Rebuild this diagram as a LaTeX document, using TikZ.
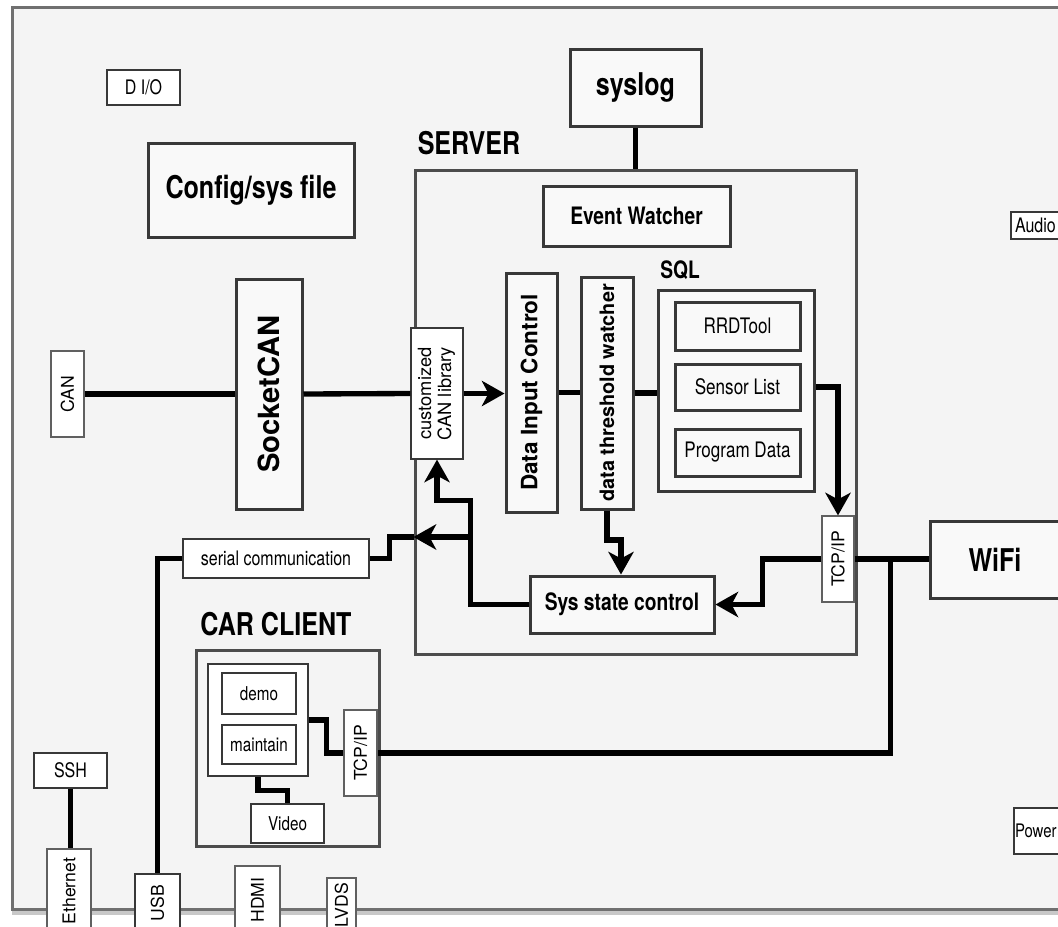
\documentclass[tikz,border=0pt]{standalone}
\usepackage{fontspec}
\usepackage{graphicx}
\setmainfont{TeX Gyre Heros}
\newfontfamily\hf{TeX Gyre Heros}[FakeStretch=0.8]
\usetikzlibrary{arrows.meta,calc}
\definecolor{bgc}{HTML}{F4F4F4}
\definecolor{boxfill}{HTML}{F9F9F9}
\definecolor{edgec}{HTML}{383838}
\definecolor{framec}{HTML}{707070}
\definecolor{shadec}{HTML}{C8C8C8}
\definecolor{portc}{HTML}{606060}
\newcommand\myfs[1]{\fontsize{#1}{#1}\selectfont}
\newcommand\rt[1]{\rotatebox{90}{#1}}
% [extra]{style}{x1}{y1}{x2}{y2}{name}
\newcommand\mkbox[7][]{\node[#2,#1,minimum width={(#5-#3)*0.75pt},minimum height={(#6-#4)*0.75pt}] (#7) at ({(#3+#5)/2},{(#4+#6)/2})}
\begin{document}
\begin{tikzpicture}[x=0.75pt,y=-0.75pt,
  thickbox/.style={draw=edgec, line width=2.25pt, fill=boxfill, inner sep=0pt},
  thinbox/.style={draw=edgec, line width=0.9pt, fill=white, inner sep=0pt},
  portbox/.style={draw=portc, line width=0.9pt, fill=white, inner sep=0pt},
  groupbox/.style={draw=edgec!90, line width=2.25pt, inner sep=0pt},
  lbl/.style={inner sep=0pt, font=\hf\bfseries\myfs{23.5}},
  conn/.style={line width=4pt, draw=black},
  arr/.style={conn, -{Stealth[length=17pt,width=19pt,inset=5pt]}},
  smallh/.style={font=\hf\myfs{15}},
  smallv/.style={font=\myfs{13.2}}
]
\useasboundingbox (0,0) rectangle (1058,926);
\clip (0,0) rectangle (1058,926);
\fill[white] (0,0) rectangle (1058,926);
% outer frame
\draw[shadec, line width=2.5pt] (14,10) rectangle (1090,913);
\draw[framec, line width=2.25pt, fill=bgc] (12,7) rectangle (1088,909);

% groups
\mkbox{groupbox}{415}{170}{856}{654}{server} {};
\node[lbl] (srvlbl) at (469,143) {SERVER};
\mkbox{groupbox}{196}{650}{379}{846}{car} {};
\node[lbl] (carlbl) at (276,624) {CAR CLIENT};

% top-left
\mkbox[smallh]{thinbox}{107}{70}{180}{105}{dio} {D I/O};
\mkbox[font=\hf\bfseries\myfs{23.5}]{thickbox}{148}{143}{354}{237}{cfg} {Config/sys file};
\mkbox[font=\hf\bfseries\myfs{23.5}]{thickbox}{570}{49}{701}{126}{syslog} {syslog};

% server contents
\mkbox[font=\hf\bfseries\myfs{18}]{thickbox}{543}{186}{730}{246}{evw} {Event Watcher};
\node[inner sep=0pt, font=\hf\bfseries\myfs{18}] (sqllbl) at (680,270) {SQL};
\mkbox{thickbox}{658}{290}{814}{491}{sql} {};
\mkbox[font=\hf\myfs{16}]{thickbox}{675}{302}{800}{350}{rrd} {RRDTool};
\mkbox[font=\hf\myfs{16}]{thickbox}{675}{364}{800}{410}{sens} {Sensor List};
\mkbox[font=\hf\myfs{16}]{thickbox}{675}{429}{800}{476}{prog} {Program Data};
\mkbox[font=\bfseries\myfs{16.9}]{thickbox}{506}{273}{557}{512}{dic} {\rt{Data Input Control}};
\mkbox[font=\bfseries\myfs{14.9}]{thickbox}{581}{277}{633}{509}{dtw} {\rt{data threshold watcher}};
\mkbox{thinbox}{411}{328}{463}{459}{canlib} {\rt{\fontsize{13.7}{15}\selectfont\begin{tabular}{@{}c@{}}customized\\CAN library\end{tabular}}};
\mkbox[font=\hf\bfseries\myfs{18}]{thickbox}{530}{576}{714}{633}{sys} {Sys state control};
\mkbox[smallv]{portbox}{822}{516}{854}{602}{tcps} {\rt{TCP/IP}};

% left side
\mkbox[font=\bfseries\myfs{21.9}]{thickbox}{236}{279}{302}{509}{sock} {\rt{SocketCAN}};
\mkbox[smallv]{portbox}{51}{351}{84}{437}{can} {\rt{CAN}};
\mkbox[smallh]{thinbox}{183}{539}{369}{578}{serial} {serial communication};

% right side
\mkbox[font=\hf\bfseries\myfs{23.5}]{thickbox}{930}{521}{1060}{598}{wifi} {WiFi};
\mkbox[smallh, text width={51*0.75pt}, align=left]{thinbox}{1011}{212}{1070}{239}{audio} {Audio};
\mkbox[font=\hf\myfs{14}, text width={54*0.75pt}, align=left]{thinbox}{1014}{808}{1070}{854}{power} {Power};

% car client contents
\mkbox{thinbox}{208}{664}{308}{776}{cont} {};
\mkbox[font=\hf\myfs{14.3}]{thinbox}{222}{673}{296}{714}{demo} {demo};
\mkbox[font=\hf\myfs{14.3}]{thinbox}{222}{725}{296}{764}{maint} {maintain};
\mkbox[font=\hf\myfs{14.3}]{thinbox}{251}{804}{324}{843}{video} {Video};
\mkbox[smallv]{portbox}{344}{710}{377}{796}{tcpc} {\rt{TCP/IP}};

% bottom ports
\mkbox[smallh]{thinbox}{34}{753}{107}{788}{ssh} {SSH};
\mkbox[smallv]{portbox}{47}{849}{91}{933}{eth} {\rt{Ethernet}};
\mkbox[smallv]{thinbox}{135}{874}{180}{932}{usb} {\rt{USB}};
\mkbox[smallv]{portbox}{235}{866}{280}{934}{hdmi} {\rt{HDMI}};
\mkbox[smallv]{portbox}{327}{878}{356}{932}{lvds} {\rt{LVDS}};

% connectors
\draw[conn] (syslog.south) -- (syslog.south |- server.north);
\draw[conn] (can.east) -- (sock.west);
\draw[conn] (sock.east) -- (canlib.west);
\draw[arr] (canlib.east) -- (canlib.east -| dic.west);
\draw[conn] (dic.east) -- (dic.east -| dtw.west);
\draw[conn] (dtw.east) -- (dtw.east -| sql.west);
\draw[arr] (sql.east |- sens.center) -| (tcps.north);
\coordinate (tw) at (621,540);
\draw[arr] (dtw.south) |- (tw) -- (tw |- sys.north);
\draw[arr] (tcps.west) -- ++(-59,0) |- (sys.east);
\draw[conn] (tcps.east) -- (tcps.east -| wifi.west);
\draw[conn] (tcps.east) ++(36,0) |- (tcpc.east);
\coordinate (sj) at ($(sys.west)+(-58,0)$);
\coordinate (cj) at ($(canlib.south)+(0,41)$);
\draw[arr] (sys.west) -- (sj) |- (cj) -- (canlib.south);
\coordinate (bj) at (472,537);
\draw[arr] (bj) -- (bj -| server.west);
\draw[conn] (bj -| server.west) -- ++(-24,0) |- (serial.east);
\draw[conn] (serial.west) -| (usb.north);
\draw[conn] (ssh.south) -- (ssh.south |- eth.north);
\draw[conn] (cont.east) -- ++(18,0) |- (tcpc.west);
\draw[conn] (cont.south) -- ++(0,14) -| (video.north);
\end{tikzpicture}
\end{document}
